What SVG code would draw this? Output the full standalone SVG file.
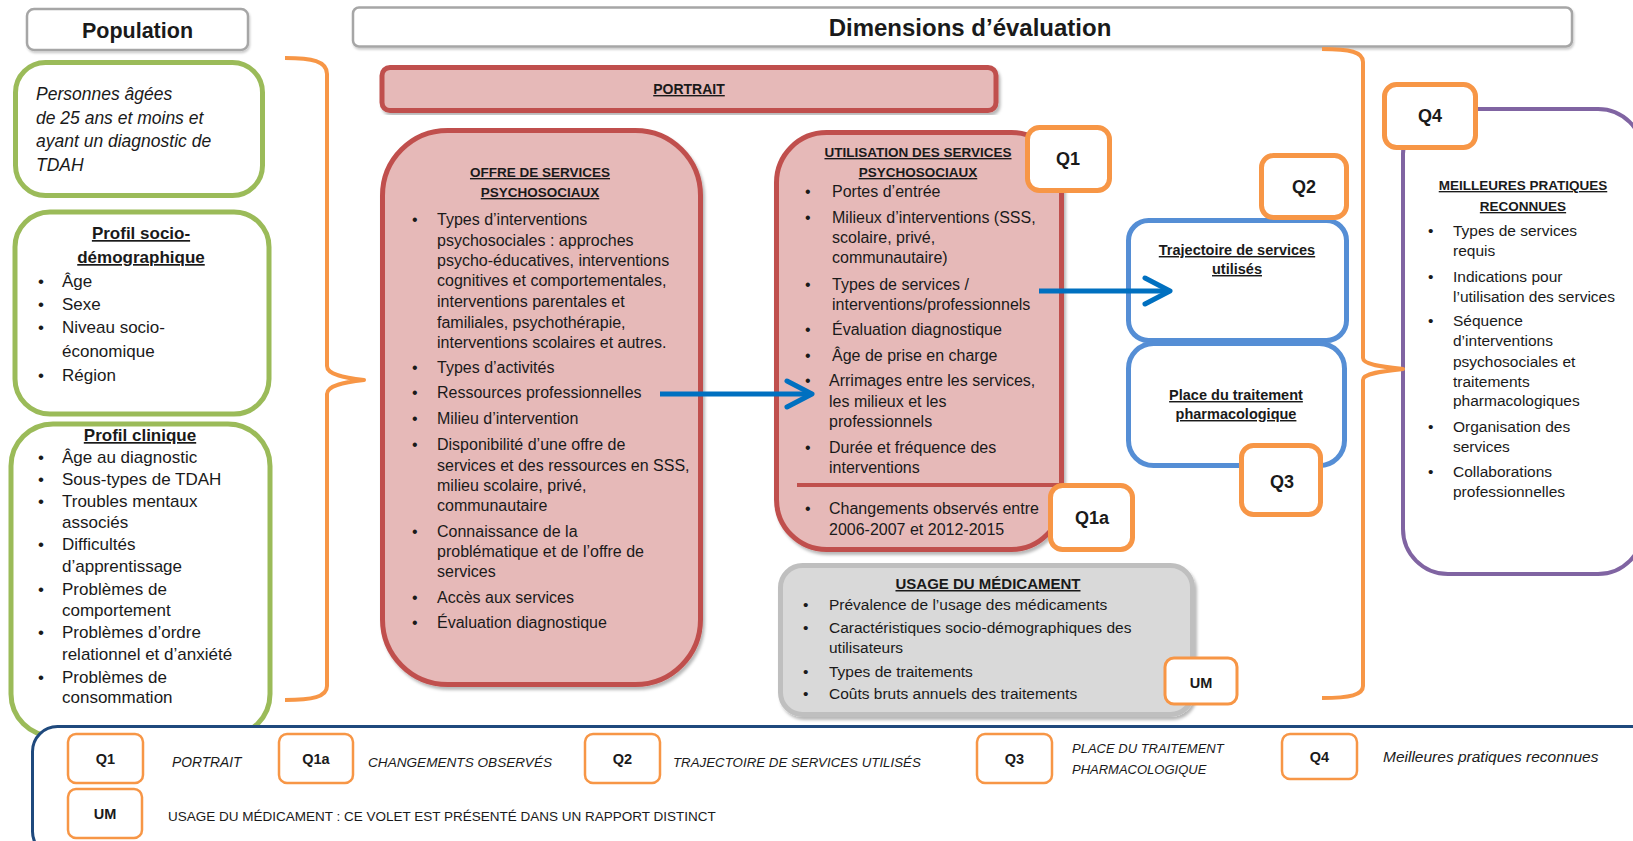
<svg xmlns="http://www.w3.org/2000/svg" width="1633" height="841" viewBox="0 0 1633 841">
<defs>
<filter id="sh" x="-5%" y="-5%" width="115%" height="115%"><feDropShadow dx="2" dy="3" stdDeviation="1.5" flood-color="#000" flood-opacity="0.28"/></filter>
<filter id="shl" x="-5%" y="-20%" width="110%" height="150%"><feDropShadow dx="1" dy="2" stdDeviation="1" flood-color="#000" flood-opacity="0.2"/></filter>
<marker id="chev" viewBox="0 0 32 32" markerWidth="32" markerHeight="32" refX="29" refY="16" orient="auto" markerUnits="userSpaceOnUse"><path d="M4,3 L29,16 L4,29" fill="none" stroke="#0070c0" stroke-width="5" stroke-linecap="round" stroke-linejoin="round"/></marker>
<style>
text{font-family:"Liberation Sans",Arial,sans-serif;fill:#1a1a1a}
.hdr{fill:#fff;stroke:#a6a6a6;stroke-width:2.5}
.grn{fill:#fff;stroke:#9bbb59;stroke-width:5}
.red{fill:#e6b9b8;stroke:#c0504d;stroke-width:5}
.gry{fill:#d9d9d9;stroke:#bfbfbf;stroke-width:5}
.blu{fill:#fff;stroke:#558ed5;stroke-width:5}
.pur{fill:#fff;stroke:#8064a2;stroke-width:4}
.q{fill:#fff;stroke:#f79646;stroke-width:5}
.lq{fill:#fff;stroke:#f79646;stroke-width:2.5}
.brk{fill:none;stroke:#f79646;stroke-width:4;stroke-linejoin:round}
.arr{fill:none;stroke:#0070c0;stroke-width:5}
.ttl{font-weight:bold;text-decoration:underline;text-anchor:middle}
.ql{font-weight:bold;font-size:18px;text-anchor:middle}
.lql{font-weight:bold;font-size:14.5px;text-anchor:middle}
.g{font-size:17px}
.o{font-size:16px}
.s{font-size:15.5px}
.lg{font-style:italic}
</style>
</defs>

<g id="population-header">
<rect class="hdr" x="27" y="9" width="221" height="41" rx="7" filter="url(#shl)"/>
<text x="137.5" y="38" font-weight="bold" font-size="21.5" text-anchor="middle">Population</text>
</g>

<g id="dimensions-header">
<rect class="hdr" x="353" y="7.5" width="1219" height="39" rx="6" filter="url(#shl)"/>
<text x="970" y="36" font-weight="bold" font-size="24" text-anchor="middle">Dimensions d’évaluation</text>
</g>

<g id="pop-description">
<rect class="grn" x="15.5" y="62.5" width="247" height="133" rx="30"/>
<text font-style="italic" font-size="17.5"><tspan x="36" y="100">Personnes âgées</tspan><tspan x="36" y="123.5">de 25 ans et moins et</tspan><tspan x="36" y="147">ayant un diagnostic de</tspan><tspan x="36" y="170.5">TDAH</tspan></text>
</g>

<g id="profil-socio">
<rect class="grn" x="15" y="212" width="254" height="202" rx="35"/>
<text class="g ttl"><tspan x="141" y="239">Profil socio-</tspan><tspan x="141" y="263">démographique</tspan></text>
<text class="g"><tspan x="38" y="287">•</tspan><tspan x="62">Âge</tspan><tspan x="38" y="310">•</tspan><tspan x="62">Sexe</tspan><tspan x="38" y="333">•</tspan><tspan x="62">Niveau socio-</tspan><tspan x="62" y="357">économique</tspan><tspan x="38" y="381">•</tspan><tspan x="62">Région</tspan></text>
</g>

<g id="profil-clinique">
<rect class="grn" x="11" y="424" width="259" height="312" rx="42"/>
<text class="g ttl" x="140" y="441">Profil clinique</text>
<text class="g"><tspan x="38" y="463">•</tspan><tspan x="62">Âge au diagnostic</tspan><tspan x="38" y="485">•</tspan><tspan x="62">Sous-types de TDAH</tspan><tspan x="38" y="507">•</tspan><tspan x="62">Troubles mentaux</tspan><tspan x="62" y="528">associés</tspan><tspan x="38" y="550">•</tspan><tspan x="62">Difficultés</tspan><tspan x="62" y="572">d’apprentissage</tspan><tspan x="38" y="595">•</tspan><tspan x="62">Problèmes de</tspan><tspan x="62" y="616">comportement</tspan><tspan x="38" y="638">•</tspan><tspan x="62">Problèmes d’ordre</tspan><tspan x="62" y="660">relationnel et d’anxiété</tspan><tspan x="38" y="683">•</tspan><tspan x="62">Problèmes de</tspan><tspan x="62" y="703">consommation</tspan></text>
</g>

<g id="portrait">
<rect class="red" x="382" y="67.5" width="614" height="43" rx="8" filter="url(#sh)"/>
<text class="ttl" x="689" y="94" font-size="14">PORTRAIT</text>
</g>

<g id="offre">
<rect class="red" x="382.5" y="130.5" width="318" height="554" rx="65" filter="url(#sh)"/>
<text class="ttl" font-size="13.5"><tspan x="540" y="177">OFFRE DE SERVICES</tspan><tspan x="540" y="197">PSYCHOSOCIAUX</tspan></text>
<text class="o"><tspan x="412" y="225">•</tspan><tspan x="437">Types d’interventions</tspan><tspan x="437" y="246">psychosociales : approches</tspan><tspan x="437" y="266">psycho-éducatives, interventions</tspan><tspan x="437" y="286">cognitives et comportementales,</tspan><tspan x="437" y="307">interventions parentales et</tspan><tspan x="437" y="328">familiales, psychothérapie,</tspan><tspan x="437" y="348">interventions scolaires et autres.</tspan><tspan x="412" y="373">•</tspan><tspan x="437">Types d’activités</tspan><tspan x="412" y="398">•</tspan><tspan x="437">Ressources professionnelles</tspan><tspan x="412" y="424">•</tspan><tspan x="437">Milieu d’intervention</tspan><tspan x="412" y="450">•</tspan><tspan x="437">Disponibilité d’une offre de</tspan><tspan x="437" y="471">services et des ressources en SSS,</tspan><tspan x="437" y="491">milieu scolaire, privé,</tspan><tspan x="437" y="511">communautaire</tspan><tspan x="412" y="537">•</tspan><tspan x="437">Connaissance de la</tspan><tspan x="437" y="557">problématique et de l’offre de</tspan><tspan x="437" y="577">services</tspan><tspan x="412" y="603">•</tspan><tspan x="437">Accès aux services</tspan><tspan x="412" y="628">•</tspan><tspan x="437">Évaluation diagnostique</tspan></text>
</g>

<g id="utilisation">
<rect class="red" x="776.5" y="132.5" width="285" height="417" rx="50" filter="url(#sh)"/>
<line x1="797" y1="485" x2="1059" y2="485" stroke="#c0504d" stroke-width="4"/>
<text class="ttl" font-size="13.5"><tspan x="918" y="157">UTILISATION DES SERVICES</tspan><tspan x="918" y="177">PSYCHOSOCIAUX</tspan></text>
<text class="o"><tspan x="805" y="197">•</tspan><tspan x="832">Portes d’entrée</tspan><tspan x="805" y="223">•</tspan><tspan x="832">Milieux d’interventions (SSS,</tspan><tspan x="832" y="243">scolaire, privé,</tspan><tspan x="832" y="263">communautaire)</tspan><tspan x="805" y="290">•</tspan><tspan x="832">Types de services /</tspan><tspan x="832" y="310">interventions/professionnels</tspan><tspan x="805" y="335">•</tspan><tspan x="832">Évaluation diagnostique</tspan><tspan x="805" y="361">•</tspan><tspan x="832">Âge de prise en charge</tspan><tspan x="805" y="386">•</tspan><tspan x="829">Arrimages entre les services,</tspan><tspan x="829" y="407">les milieux et les</tspan><tspan x="829" y="427">professionnels</tspan><tspan x="805" y="453">•</tspan><tspan x="829">Durée et fréquence des</tspan><tspan x="829" y="473">interventions</tspan><tspan x="805" y="514">•</tspan><tspan x="829">Changements observés entre</tspan><tspan x="829" y="535">2006-2007 et 2012-2015</tspan></text>
</g>

<g id="usage">
<rect class="gry" x="780.5" y="565.5" width="412" height="149" rx="22" filter="url(#sh)"/>
<text class="ttl" x="988" y="589" font-size="15">USAGE DU MÉDICAMENT</text>
<text class="s"><tspan x="803" y="610">•</tspan><tspan x="829">Prévalence de l’usage des médicaments</tspan><tspan x="803" y="633">•</tspan><tspan x="829">Caractéristiques socio-démographiques des</tspan><tspan x="829" y="653">utilisateurs</tspan><tspan x="803" y="677">•</tspan><tspan x="829">Types de traitements</tspan><tspan x="803" y="699">•</tspan><tspan x="829">Coûts bruts annuels des traitements</tspan></text>
</g>

<g id="trajectoire">
<rect class="blu" x="1128.5" y="220.5" width="218" height="120" rx="20"/>
<text class="ttl" font-size="14.5"><tspan x="1237" y="255">Trajectoire de services</tspan><tspan x="1237" y="274">utilisés</tspan></text>
</g>

<g id="place-traitement">
<rect class="blu" x="1128.5" y="343.5" width="216" height="122" rx="25"/>
<text class="ttl" font-size="14.5"><tspan x="1236" y="400">Place du traitement</tspan><tspan x="1236" y="419">pharmacologique</tspan></text>
</g>

<g id="meilleures-pratiques">
<rect class="pur" x="1403" y="109" width="240" height="465" rx="45"/>
<text class="ttl" font-size="13.5"><tspan x="1523" y="190">MEILLEURES PRATIQUES</tspan><tspan x="1523" y="211">RECONNUES</tspan></text>
<text class="s"><tspan x="1428" y="236">•</tspan><tspan x="1453">Types de services</tspan><tspan x="1453" y="256">requis</tspan><tspan x="1428" y="282">•</tspan><tspan x="1453">Indications pour</tspan><tspan x="1453" y="302">l’utilisation des services</tspan><tspan x="1428" y="326">•</tspan><tspan x="1453">Séquence</tspan><tspan x="1453" y="346">d’interventions</tspan><tspan x="1453" y="367">psychosociales et</tspan><tspan x="1453" y="387">traitements</tspan><tspan x="1453" y="406">pharmacologiques</tspan><tspan x="1428" y="432">•</tspan><tspan x="1453">Organisation des</tspan><tspan x="1453" y="452">services</tspan><tspan x="1428" y="477">•</tspan><tspan x="1453">Collaborations</tspan><tspan x="1453" y="497">professionnelles</tspan></text>
</g>

<g id="q1"><rect class="q" x="1027.5" y="127.5" width="82" height="63" rx="12"/><text class="ql" x="1068" y="165">Q1</text></g>
<g id="q1a"><rect class="q" x="1050.5" y="485.5" width="82" height="64" rx="12"/><text class="ql" x="1092" y="524">Q1a</text></g>
<g id="q2"><rect class="q" x="1261.5" y="155.5" width="85" height="62" rx="12"/><text class="ql" x="1304" y="193">Q2</text></g>
<g id="q3"><rect class="q" x="1241.5" y="445.5" width="79" height="69" rx="12"/><text class="ql" x="1282" y="488">Q3</text></g>
<g id="q4"><rect class="q" x="1384.5" y="84.5" width="91" height="63" rx="12"/><text class="ql" x="1430" y="122">Q4</text></g>
<g id="um"><rect class="q" x="1165" y="658" width="72" height="46" rx="9" style="stroke-width:3"/><text class="lql" x="1201" y="688">UM</text></g>

<g id="connectors">
<path class="brk" d="M285,58 C312,58 327,61 327,74 L327,366 C327,375 346,378 364,380 C346,382 327,385 327,394 L327,686 C327,697 312,700 285,700"/>
<path class="brk" d="M1322,49 C1350,49 1363,52 1363,62 L1363,358 C1363,365 1384,367 1403,369 C1384,371 1363,373 1363,380 L1363,686 C1363,695 1350,698 1322,698"/>
<line class="arr" x1="660" y1="394" x2="812" y2="394" marker-end="url(#chev)"/>
<line class="arr" x1="1039" y1="291" x2="1170" y2="291" marker-end="url(#chev)"/>
</g>

<g id="legend">
<rect x="32.5" y="726.5" width="1630" height="130" rx="25" fill="#fff" stroke="#1f497d" stroke-width="3"/>
<rect class="lq" x="68" y="734" width="75" height="49" rx="8"/><text class="lql" x="105.5" y="764">Q1</text>
<text class="lg" x="172" y="767" font-size="13.8">PORTRAIT</text>
<rect class="lq" x="279" y="734" width="74" height="49" rx="8"/><text class="lql" x="316" y="764">Q1a</text>
<text class="lg" x="368" y="767" font-size="13.6">CHANGEMENTS OBSERVÉS</text>
<rect class="lq" x="585" y="734" width="75" height="49" rx="8"/><text class="lql" x="622.5" y="764">Q2</text>
<text class="lg" x="673" y="767" font-size="13.3">TRAJECTOIRE DE SERVICES UTILISÉS</text>
<rect class="lq" x="977" y="734" width="75" height="49" rx="8"/><text class="lql" x="1014.5" y="764">Q3</text>
<text class="lg" font-size="13"><tspan x="1072" y="753">PLACE DU TRAITEMENT</tspan><tspan x="1072" y="774">PHARMACOLOGIQUE</tspan></text>
<rect class="lq" x="1282" y="734" width="75" height="45" rx="8"/><text class="lql" x="1319.5" y="762">Q4</text>
<text class="lg" x="1383" y="762" font-size="15.5">Meilleures pratiques reconnues</text>
<rect class="lq" x="68" y="789" width="74" height="49" rx="8"/><text class="lql" x="105" y="819">UM</text>
<text x="168" y="821" font-size="13.5">USAGE DU MÉDICAMENT : CE VOLET EST PRÉSENTÉ DANS UN RAPPORT DISTINCT</text>
</g>
</svg>
